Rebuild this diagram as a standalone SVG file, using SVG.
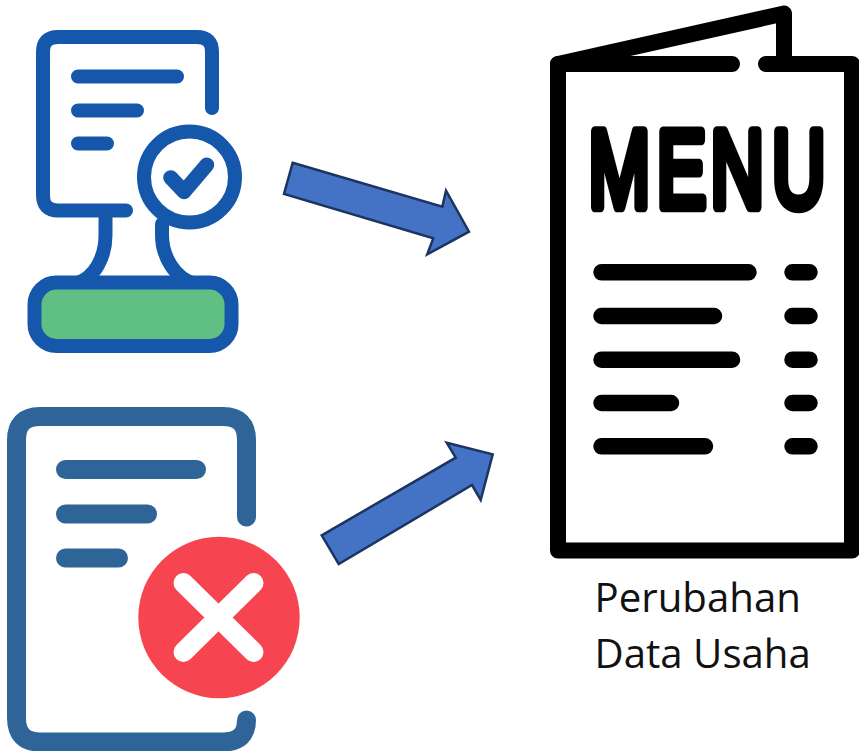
<svg xmlns="http://www.w3.org/2000/svg" width="859" height="751" viewBox="0 0 859 751">
<style>
.s{fill:none;stroke-linecap:round;stroke-linejoin:round}
.b{stroke:#1558ab;stroke-width:14}
.t{stroke:#2f6499;stroke-width:19}
.k{stroke:#000;stroke-width:16}
.a{fill:#4472c4;stroke:#1b3560;stroke-width:2.5;stroke-linejoin:miter}
.l{font-family:"Open Sans","Noto Sans",sans-serif;font-size:40.200px;fill:#111}
</style>
<rect width="859" height="751" fill="#fff"/>
<g id="stamp-approved">
<path class="s b" d="M105.500 218V235C105.500 255 96 279 74 284M162 224V235C162 255 174 279 196 284"/>
<rect x="34.500" y="282.500" width="197" height="63.500" rx="22" fill="#60c084" stroke="#1558ab" stroke-width="14"/>
<path class="s b" d="M212 108V52Q212 37 197 37H58Q43 37 43 52V195Q43 210.500 58 210.500H126"/>
<path class="s b" d="M78 76.500H177M78 110.500H137M78 143.500H107"/>
<circle cx="189.500" cy="177" r="45.500" fill="#fff" stroke="#1558ab" stroke-width="14"/>
<path class="s b" style="stroke-width:15" d="M170.700 177.700L184 191.700L206.700 165"/>
</g>
<g id="document-rejected">
<path class="s t" d="M246.500 517V440Q246.500 416.500 223 416.500H40Q16.500 416.500 16.500 440V718Q16.500 742 40 742H223Q246.500 742 246.500 720"/>
<path class="s t" d="M65.500 469.500H196.500M65.500 514H147.500M65.500 558H118.500"/>
<circle cx="219" cy="617.500" r="80.700" fill="#f64551"/>
<path class="s" stroke="#fff" stroke-width="20" d="M183.500 583L253.500 652M253.500 583L183.500 652"/>
</g>
<g id="menu">
<path class="s k" d="M732 64H558V550.500H852V64H766"/>
<path class="s k" d="M558 64L784 13.500V64"/>
<text transform="translate(0 206.500) scale(0.68 1)" x="865.400 966 1044.800 1135.300" y="0" font-family="Liberation Sans,sans-serif" font-size="109" fill="#000" stroke="#000" stroke-width="9" stroke-linejoin="round" vector-effect="non-scaling-stroke">MENU</text>
<path class="s k" style="stroke-width:16.500" d="M601.500 272.300H748.500M792.500 272.300H809.500M601.500 316H714M792.500 316H809.500M601.500 359.700H732M792.500 359.700H809.500M601.500 403H671M792.500 403H809.500M601.500 446.300H705M792.500 446.300H809.500"/>
<text class="l" x="594.500" y="612">Perubahan</text>
<text class="l" x="594.500" y="668">Data Usaha</text>
</g>
<g id="connectors">
<polygon class="a" points="292.700,162.700 442.300,206.700 446,190.700 469,231.700 427.300,254.300 433.300,238.300 284,194"/>
<polygon class="a" points="321.700,535.300 455.700,457.700 446.700,442.700 492.700,454.300 480.700,500 472,485 338.700,564"/>
</g>
</svg>
